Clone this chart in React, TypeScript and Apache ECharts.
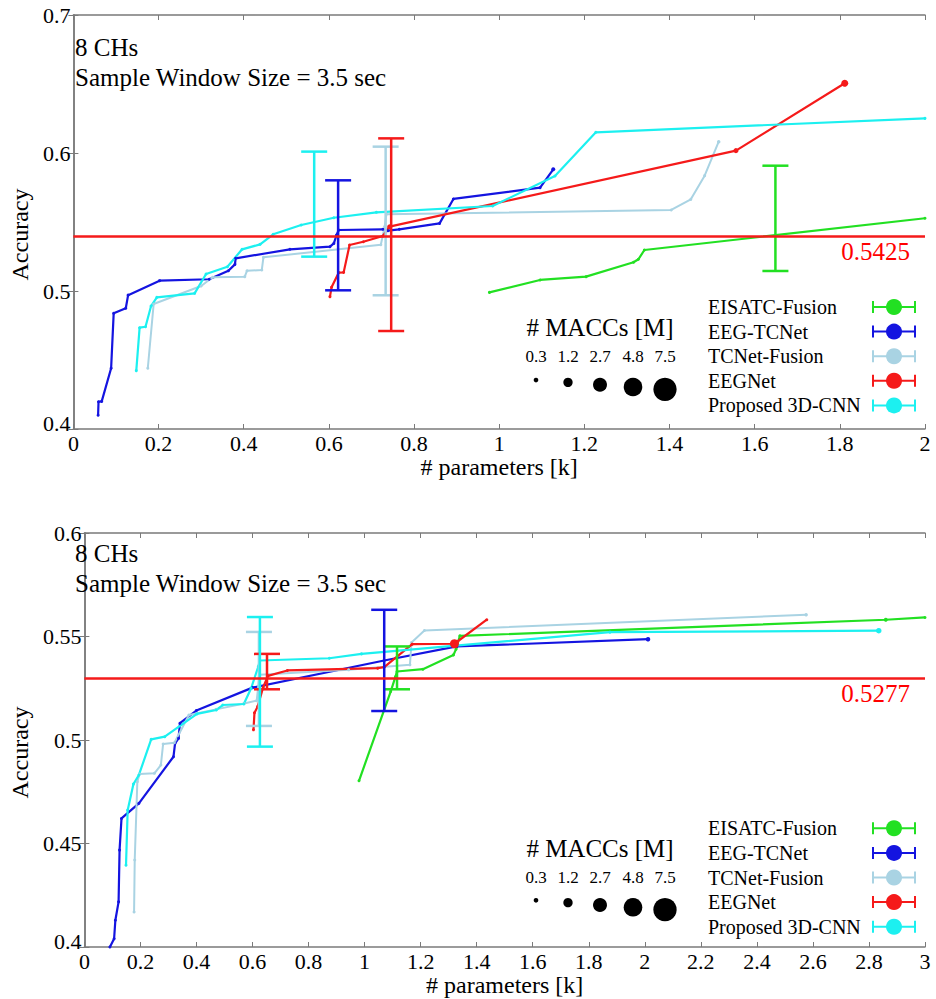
import React, { useEffect, useRef } from "react";
import * as echarts from "echarts";

const FONT = "Liberation Serif";

const seriesNames = ["EISATC-Fusion", "EEG-TCNet", "TCNet-Fusion", "EEGNet", "Proposed 3D-CNN"];
const seriesColors = ["#22e022", "#1414e0", "#a9d3e3", "#f51a1a", "#1cf0f0"];

// ---------- Top chart (x: 0..2) ----------
const topEISATC = [[0.977, 0.499], [1.096, 0.508], [1.204, 0.5104], [1.3155, 0.5208], [1.327, 0.523], [1.341, 0.5297], [2.0, 0.5527]];
const topEEGTCNet = [[0.058, 0.41], [0.059, 0.4198], [0.0665, 0.42], [0.0886, 0.444], [0.0946, 0.4838], [0.123, 0.4875], [0.1285, 0.497], [0.2024, 0.5075], [0.319, 0.5085], [0.364, 0.5147], [0.3794, 0.5193], [0.381, 0.5237], [0.5086, 0.5302], [0.6025, 0.5321], [0.6117, 0.5345], [0.618, 0.5406], [0.6232, 0.5442], [0.727, 0.5447], [0.7386, 0.5437], [0.7654, 0.5447], [0.86, 0.549], [0.8925, 0.5667], [1.096, 0.5749], [1.127, 0.5882, 0.22]];
const topTCNetFusion = [[0.1747, 0.444], [0.1885, 0.4906], [0.3, 0.5036], [0.327, 0.51], [0.4025, 0.5104], [0.4078, 0.5147], [0.4424, 0.5152], [0.4463, 0.5244], [0.722, 0.5335], [0.731, 0.5466], [0.735, 0.5556], [1.404, 0.5587], [1.45, 0.5664], [1.4825, 0.5836], [1.5155, 0.6082, 0.17]];
const topEEGNet = [[0.6025, 0.4959], [0.6063, 0.5027], [0.623, 0.5133], [0.6347, 0.5135], [0.6486, 0.5333], [0.6808, 0.5357], [0.727, 0.5399], [0.7424, 0.5466, 0.3], [1.556, 0.6017, 0.35], [1.8115, 0.6505, 0.68]];
const top3DCNN = [[0.1477, 0.4423], [0.1555, 0.4734], [0.1694, 0.4741], [0.1824, 0.4891], [0.196, 0.4954], [0.2847, 0.4983], [0.3116, 0.5123], [0.3617, 0.5176], [0.3962, 0.5302], [0.4385, 0.5338], [0.4693, 0.5411], [0.535, 0.5478], [0.6116, 0.5531], [0.7116, 0.557], [0.9846, 0.5616], [1.131, 0.5833], [1.227, 0.615], [2.0, 0.6251]];
// error bars: [x, low, high]
const topErrEISATC = [[1.6487, 0.5145, 0.5908]];
const topErrEEGTCNet = [[0.6217, 0.5005, 0.5802]];
const topErrTCNetFusion = [[0.7333, 0.4969, 0.6046]];
const topErrEEGNet = [[0.7463, 0.471, 0.6106]];
const topErr3DCNN = [[0.5655, 0.5249, 0.601]];
const topThreshold = 0.5425;

// ---------- Bottom chart (x: 0..3) ----------
const botEISATC = [[0.98, 0.4803], [1.093, 0.5234], [1.11, 0.5305], [1.1157, 0.5331], [1.208, 0.5342], [1.317, 0.5411], [1.3264, 0.5439], [1.34, 0.5503], [2.86, 0.5581, 0.22], [3.0, 0.5592]];
const botEEGTCNet = [[0.091, 0.4], [0.106, 0.404], [0.1105, 0.4129], [0.122, 0.4218], [0.1255, 0.4468], [0.1324, 0.4621], [0.1945, 0.4694], [0.3178, 0.4919], [0.3236, 0.4984], [0.336, 0.5008], [0.341, 0.5081], [0.3996, 0.5142], [0.6, 0.5253], [1.07, 0.5384], [1.3288, 0.5452], [2.0115, 0.5487, 0.28]];
const botTCNetFusion = [[0.1773, 0.4169], [0.1796, 0.442], [0.1889, 0.4798], [0.1969, 0.4836], [0.2498, 0.4839], [0.2729, 0.4879], [0.281, 0.4981], [0.3212, 0.4987], [0.373, 0.5121], [0.47, 0.5148], [0.57, 0.5176], [0.615, 0.519], [0.625, 0.5315], [0.943, 0.5339], [1.1617, 0.5363], [1.1675, 0.5471], [1.2135, 0.5529], [2.5758, 0.5605, 0.17]];
const botEEGNet = [[0.6034, 0.5049], [0.607, 0.5132], [0.6183, 0.5161], [0.638, 0.5255], [0.6552, 0.531], [0.7243, 0.5336], [1.0466, 0.5347], [1.07, 0.5352], [1.17, 0.5463], [1.3206, 0.5465, 1.12], [1.436, 0.5581]];
const bot3DCNN = [[0.1485, 0.4395], [0.1544, 0.4661], [0.175, 0.4787], [0.1945, 0.4831], [0.2383, 0.5003], [0.2867, 0.5016], [0.4018, 0.5126], [0.4708, 0.5145], [0.494, 0.5169], [0.569, 0.5174], [0.595, 0.525], [0.6207, 0.5355], [0.626, 0.5384], [0.874, 0.5395], [0.989, 0.5416], [1.8756, 0.5521], [2.835, 0.5528, 0.42]];
const botErrEISATC = [[1.1157, 0.5245, 0.5452]];
const botErrEEGTCNet = [[1.07, 0.514, 0.5629]];
const botErrTCNetFusion = [[0.6229, 0.5068, 0.5522]];
const botErrEEGNet = [[0.6517, 0.5245, 0.5416]];
const botErr3DCNN = [[0.6264, 0.4968, 0.5594]];
const botThreshold = 0.5277;

// MACC size legend
const maccLegend = [0.3, 1.2, 2.7, 4.8, 7.5];

const annotationLines = ["8 CHs", "Sample Window Size = 3.5 sec"];

const maccToDiameter = (m: number) => 8.5 * Math.sqrt(m);

function buildSeries(gi: number, lines: number[][][], errs: number[][][], threshold: number) {
  const xi = gi * 2;
  const yi = gi * 2;
  const out: any[] = [];
  lines.forEach((d, k) => {
    const s: any = {
      type: "line",
      name: seriesNames[k],
      xAxisIndex: xi,
      yAxisIndex: yi,
      data: d,
      showSymbol: true,
      showAllSymbol: true,
      symbol: "circle",
      symbolSize: (v: number[]) => (v.length > 2 ? maccToDiameter(v[2]) : 3),
      lineStyle: { color: seriesColors[k], width: k === 2 ? 2 : 2.2 },
      itemStyle: { color: seriesColors[k] },
      emphasis: { disabled: true },
      z: 3,
    };
    if (k === 3) {
      s.markLine = {
        silent: true,
        symbol: "none",
        animation: false,
        lineStyle: { color: seriesColors[3], width: 2.5, type: "solid" },
        emphasis: { disabled: true },
        label: {
          show: true,
          position: "insideEndBottom",
          formatter: () => threshold.toFixed(4),
          color: "#ff0000",
          fontFamily: FONT,
          fontSize: 25,
          distance: [15, 3],
        },
        data: [{ yAxis: threshold }],
      };
    }
    out.push(s);
  });
  errs.forEach((d, k) => {
    out.push({
      type: "custom",
      name: seriesNames[k] + " error",
      xAxisIndex: xi,
      yAxisIndex: yi,
      data: d,
      encode: { x: 0, y: [1, 2] },
      z: 4,
      renderItem: (params: any, api: any) => {
        const x = api.value(0);
        const lo = api.value(1);
        const hi = api.value(2);
        const p1 = api.coord([x, hi]);
        const p2 = api.coord([x, lo]);
        const hw = 13;
        const st = { stroke: seriesColors[k], lineWidth: 2.5 };
        return {
          type: "group",
          children: [
            { type: "line", shape: { x1: p1[0], y1: p1[1], x2: p2[0], y2: p2[1] }, style: st },
            { type: "line", shape: { x1: p1[0] - hw, y1: p1[1], x2: p1[0] + hw, y2: p1[1] }, style: st },
            { type: "line", shape: { x1: p2[0] - hw, y1: p2[1], x2: p2[0] + hw, y2: p2[1] }, style: st },
          ],
        };
      },
    });
  });
  return out;
}

const fmt = (v: number) => String(Number(v.toFixed(2)));

function axesFor(gi: number, xMax: number, yMin: number, yMax: number, yInt: number) {
  const axisLine = { show: true, lineStyle: { color: "#7a7a7a", width: 1.5 } };
  const axisTick = { show: true, inside: true, length: 5, lineStyle: { color: "#7a7a7a", width: 1 } };
  const xAxes = [
    {
      type: "value", gridIndex: gi, min: 0, max: xMax, interval: 0.2, position: "bottom",
      axisLine, axisTick, splitLine: { show: false },
      axisLabel: { color: "#000", fontFamily: FONT, fontSize: 22, margin: 3, formatter: fmt, showMinLabel: true, showMaxLabel: true },
      name: "# parameters [k]", nameLocation: "middle", nameGap: 22,
      nameTextStyle: { color: "#000", fontFamily: FONT, fontSize: 24 },
    },
    {
      type: "value", gridIndex: gi, min: 0, max: xMax, interval: 0.2, position: "top",
      axisLine, axisTick, splitLine: { show: false }, axisLabel: { show: false },
    },
  ];
  const yAxes = [
    {
      type: "value", gridIndex: gi, min: yMin, max: yMax, interval: yInt, position: "left",
      axisLine, axisTick, splitLine: { show: false },
      axisLabel: {
        color: "#000", fontFamily: FONT, fontSize: 22, margin: 3,
        formatter: (v: number) => (Math.abs(v - yMin) < 1e-9 ? "{lo|" + fmt(v) + "}" : fmt(v)),
        rich: { lo: { color: "#000", fontFamily: FONT, fontSize: 22, padding: [0, 0, 11, 0] } },
        showMinLabel: true, showMaxLabel: true,
      },
      name: "Accuracy", nameLocation: "middle", nameGap: 30,
      nameTextStyle: { color: "#000", fontFamily: FONT, fontSize: 24, padding: [0, 25, 0, 0] },
    },
    {
      type: "value", gridIndex: gi, min: yMin, max: yMax, interval: yInt, position: "right",
      axisLine, axisTick, splitLine: { show: false }, axisLabel: { show: false },
    },
  ];
  return { xAxes, yAxes };
}

function legendGraphics(textTop: number, maccTitleY: number, maccCircleTop: number) {
  const g: any[] = [];
  const spacing = 24.6;
  seriesNames.forEach((n, i) => {
    const y = textTop + i * spacing;
    g.push({
      type: "text", x: 708, y, z: 20,
      style: { text: n, fill: "#000", fontFamily: FONT, fontSize: 20, align: "left", verticalAlign: "middle" },
    });
    const c = seriesColors[i];
    g.push({ type: "line", z: 20, shape: { x1: 873, y1: y, x2: 915, y2: y }, style: { stroke: c, lineWidth: 2 } });
    g.push({ type: "line", z: 20, shape: { x1: 873, y1: y - 6, x2: 873, y2: y + 6 }, style: { stroke: c, lineWidth: 2 } });
    g.push({ type: "line", z: 20, shape: { x1: 915, y1: y - 6, x2: 915, y2: y + 6 }, style: { stroke: c, lineWidth: 2 } });
    g.push({ type: "circle", z: 21, shape: { cx: 894, cy: y, r: 8 }, style: { fill: c } });
  });
  g.push({
    type: "text", x: 600, y: maccTitleY, z: 20,
    style: { text: "# MACCs [M]", fill: "#000", fontFamily: FONT, fontSize: 25, align: "center", verticalAlign: "middle" },
  });
  const xs = [536, 568, 600, 633, 665];
  maccLegend.forEach((m, i) => {
    g.push({
      type: "text", x: xs[i], y: maccTitleY + 29, z: 20,
      style: { text: String(m), fill: "#000", fontFamily: FONT, fontSize: 17, align: "center", verticalAlign: "middle" },
    });
    const r = maccToDiameter(m) / 2;
    g.push({ type: "circle", z: 20, shape: { cx: xs[i], cy: maccCircleTop + r, r }, style: { fill: "#000" } });
  });
  return g;
}

function annotation(y1: number) {
  return annotationLines.map((t, i) => ({
    type: "text", x: 75, y: y1 + i * 30.5, z: 20,
    style: { text: t, fill: "#000", fontFamily: FONT, fontSize: 25, align: "left", verticalAlign: "middle" },
  }));
}

export default function App() {
  const ref = useRef<HTMLDivElement>(null);
  useEffect(() => {
    if (!ref.current) return;
    const chart = echarts.init(ref.current, undefined, { renderer: "svg" });
    const a0 = axesFor(0, 2, 0.4, 0.7, 0.1);
    const a1 = axesFor(1, 3, 0.4, 0.6, 0.05);
    const option: any = {
      animation: false,
      backgroundColor: "#fff",
      textStyle: { fontFamily: FONT },
      grid: [
        { left: 57.5, top: 15, width: 867.5, height: 414, containLabel: false },
        { left: 57.5, top: 533, width: 867.5, height: 414, containLabel: false },
      ],
      xAxis: [...a0.xAxes, ...a1.xAxes],
      yAxis: [...a0.yAxes, ...a1.yAxes],
      series: [
        ...buildSeries(0, [topEISATC, topEEGTCNet, topTCNetFusion, topEEGNet, top3DCNN],
          [topErrEISATC, topErrEEGTCNet, topErrTCNetFusion, topErrEEGNet, topErr3DCNN], topThreshold),
        ...buildSeries(1, [botEISATC, botEEGTCNet, botTCNetFusion, botEEGNet, bot3DCNN],
          [botErrEISATC, botErrEEGTCNet, botErrTCNetFusion, botErrEEGNet, botErr3DCNN], botThreshold),
      ],
      graphic: [
        ...annotation(47),
        ...annotation(553),
        ...legendGraphics(307, 327, 377.7),
        ...legendGraphics(828.3, 848.3, 898),
      ],
    };
    chart.setOption(option);
    return () => chart.dispose();
  }, []);
  return (
    <div
      ref={ref}
      style={{ position: "absolute", left: 0, top: 0, width: 936, height: 999, background: "#fff" }}
    />
  );
}
